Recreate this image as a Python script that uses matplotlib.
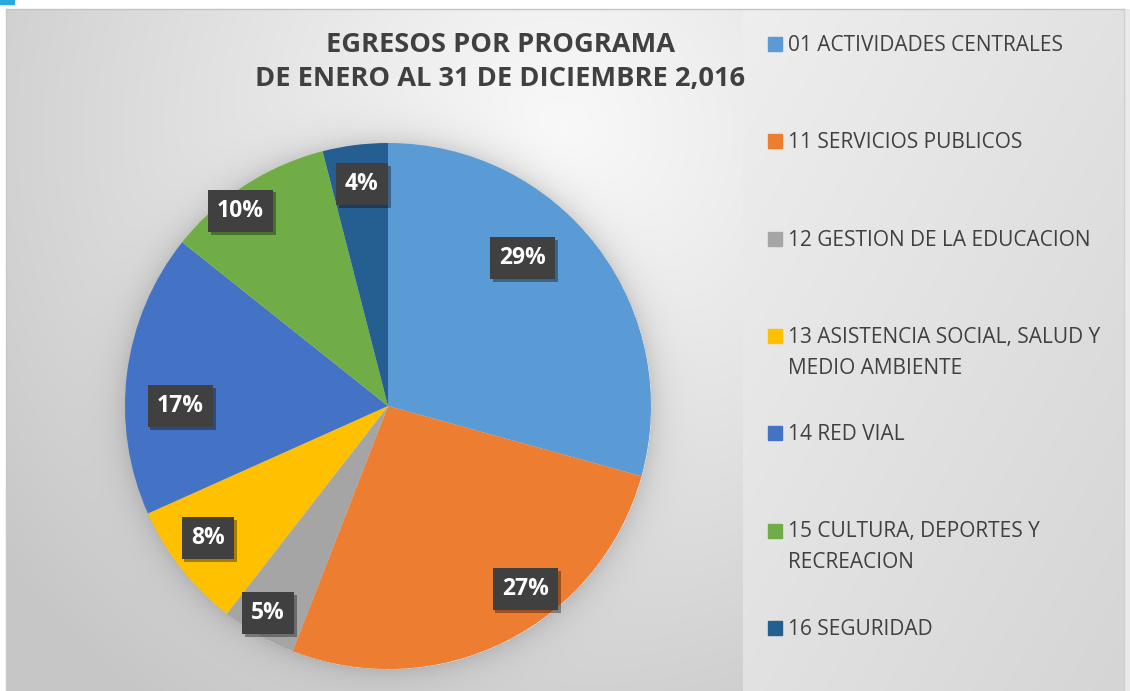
import numpy as np
import matplotlib
matplotlib.use("Agg")
import matplotlib.pyplot as plt
import matplotlib.patheffects as pe
from matplotlib.patches import Rectangle

plt.rcParams["font.family"] = ["Open Sans", "DejaVu Sans"]

# ---------- data ----------
programas = [
    "01 ACTIVIDADES CENTRALES",
    "11 SERVICIOS PUBLICOS",
    "12 GESTION DE LA EDUCACION",
    "13 ASISTENCIA SOCIAL, SALUD Y\nMEDIO AMBIENTE",
    "14 RED VIAL",
    "15 CULTURA, DEPORTES Y\nRECREACION",
    "16 SEGURIDAD",
]
porcentajes = [29.3, 26.6, 4.6, 7.8, 17.4, 10.3, 4.0]
colores = ["#5B9BD5", "#ED7D31", "#A5A5A5", "#FFC000", "#4472C4", "#70AD47", "#255E91"]
titulo = "EGRESOS POR PROGRAMA\nDE ENERO AL 31 DE DICIEMBRE 2,016"

# label placement (Excel "best fit" look): radial factor and angular nudge in degrees
label_dist = [0.76, 0.87, 0.91, 0.85, 0.79, 0.93, 0.85]
label_turn = [-10.4, -10.2, 0.6, 1.9, -7.2, -4.1, 0.5]

W, H = 1130, 691
TXT = "#404040"

fig = plt.figure(figsize=(W / 100, H / 100), dpi=100)

# ---------- background (pixel coords) ----------
bg = fig.add_axes([0, 0, 1, 1])
bg.set_xlim(0, W)
bg.set_ylim(H, 0)
bg.axis("off")

yy, xx = np.mgrid[0:H, 0:W].astype(float)
img = np.full((H, W), 1.0)

# plot area: radial gradient, light near the title
d = np.hypot(xx - 560, yy - 130)
left = 0.975 - (0.975 - 0.78) * np.clip(d / 700, 0, 1) ** 1.1
# soft shadow around the pie
cx, cy, r = 388, 406, 263
dp = np.hypot(xx - cx, yy - cy)
shade = np.where(dp > r, 0.13 * np.exp(-(dp - r) / 14), 0)
left = left * (1 - shade)
m = (xx >= 6) & (xx < 743) & (yy >= 9)
img[m] = left[m]

# legend area: diagonal gradient
t = np.clip(((xx - 743) / 381 + (yy - 9) / 682) / 2, 0, 1)
right = 0.935 - 0.10 * t
m = (xx >= 743) & (xx < 1124) & (yy >= 9)
img[m] = right[m]
m = (xx >= 1124) & (yy >= 9)
img[m] = 0.92

bg.imshow(np.dstack([img] * 3), extent=(0, W, H, 0), interpolation="bilinear", zorder=0)
bg.plot([6, 1124], [9, 9], color="#c4c4c4", lw=1, zorder=1)
bg.plot([6, 6], [9, H], color="#c8c8c8", lw=1, zorder=1)
bg.plot([1124, 1124], [9, H], color="#d0d0d0", lw=1, zorder=1)
bg.add_patch(Rectangle((0, 0), 14, 4, color="#29a8e0", zorder=1))

# ---------- pie ----------
ax = fig.add_axes([(cx - r) / W, (H - cy - r) / H, 2 * r / W, 2 * r / H])
wedges, _ = ax.pie(
    porcentajes, colors=colores, startangle=90, counterclock=False,
    radius=1, wedgeprops=dict(linewidth=0),
)
ax.set_xlim(-1, 1)
ax.set_ylim(-1, 1)
ax.set_aspect("equal")

for w, v, rd, dt in zip(wedges, porcentajes, label_dist, label_turn):
    ang = np.deg2rad((w.theta1 + w.theta2) / 2 - dt)
    t = ax.text(rd * np.cos(ang), rd * np.sin(ang), f"{v:.0f}%",
                ha="center", va="center", color="white", fontsize=16.5,
                fontweight="bold",
                bbox=dict(boxstyle="square,pad=0.4", fc="#404040", ec="none"))
    t.get_bbox_patch().set_path_effects([
        pe.SimplePatchShadow(offset=(2, -2), shadow_rgbFace="black", alpha=0.35),
        pe.Normal(),
    ])

# ---------- title ----------
fig.text(500 / W, 1 - 62 / H, titulo, ha="center", va="center", fontsize=19.6,
         fontweight="bold", color=TXT, linespacing=1.4)

# ---------- legend ----------
for i, (lab, col) in enumerate(zip(programas, colores)):
    yc = 43 + i * 97.3
    bg.add_patch(Rectangle((768, yc - 6), 14, 14, color=col, zorder=2))
    bg.text(788, yc - 8, lab, ha="left", va="top", fontsize=15, color=TXT,
            linespacing=1.6, zorder=2)

fig.savefig("out.png", dpi=100)
